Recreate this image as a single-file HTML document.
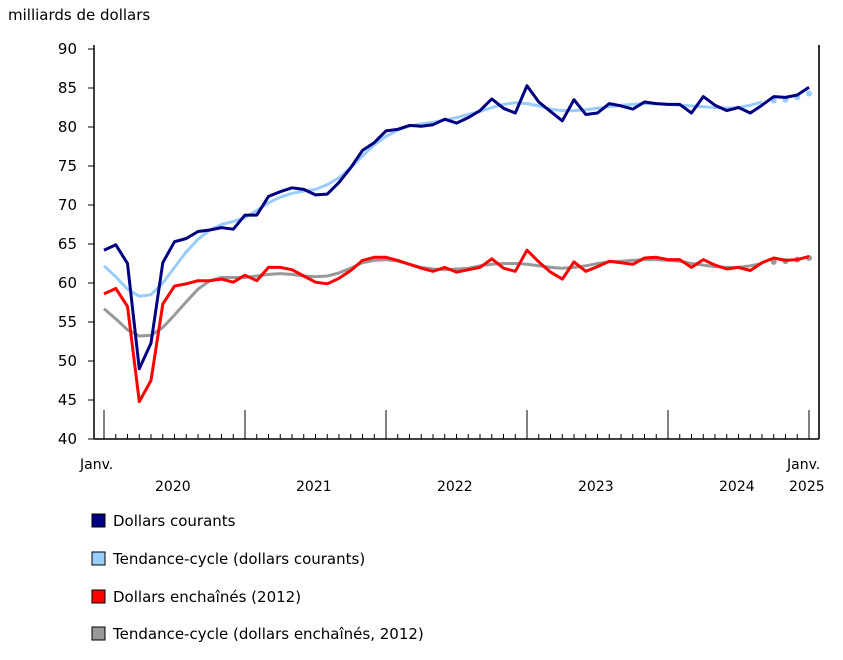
<!DOCTYPE html>
<html><head><meta charset="utf-8"><style>
body{margin:0;background:#fff;width:843px;height:655px;overflow:hidden}
text{font-family:"DejaVu Sans","Liberation Sans",sans-serif;font-size:14px;fill:#000}
.lg{font-size:15px}
</style></head><body>
<svg id="s" width="843" height="655" xmlns="http://www.w3.org/2000/svg">
<text x="8" y="20" style="font-size:15px">milliards de dollars</text>
<g id="ax"></g>
<text x="80" y="469">Janv.</text>
<text x="787" y="469">Janv.</text>
<text x="155" y="491">2020</text>
<text x="296" y="491">2021</text>
<text x="437" y="491">2022</text>
<text x="578" y="491">2023</text>
<text x="719" y="491">2024</text>
<text x="789" y="491">2025</text>
<rect x="92" y="514" width="13" height="13" fill="#000080" stroke="#000" stroke-width="1"/>
<text class="lg" x="113" y="526">Dollars courants</text>
<rect x="92" y="552" width="13" height="13" fill="#99ccff" stroke="#000" stroke-width="1"/>
<text class="lg" x="113" y="564">Tendance-cycle (dollars courants)</text>
<rect x="92" y="590" width="13" height="13" fill="#ff0000" stroke="#000" stroke-width="1"/>
<text class="lg" x="113" y="602">Dollars enchaînés (2012)</text>
<rect x="92" y="627" width="13" height="13" fill="#999999" stroke="#000" stroke-width="1"/>
<text class="lg" x="113" y="639">Tendance-cycle (dollars enchaînés, 2012)</text>
</svg>
<script>
var NS="http://www.w3.org/2000/svg",s=document.getElementById('s'),ax=document.getElementById('ax');
function el(t,a,p){var e=document.createElementNS(NS,t);for(var k in a)e.setAttribute(k,a[k]);(p||s).appendChild(e);return e}
function X(i){return 104+i*11.75}function Y(v){return 439-(v-40)*7.8}
for(var v=40;v<=90;v+=5){el('line',{x1:88,x2:94,y1:Y(v),y2:Y(v),stroke:'#000'},ax);var t=el('text',{x:77,y:Y(v)+5,'text-anchor':'end',style:'font-size:15px'},ax);t.textContent=v;}
el('line',{x1:94,x2:94,y1:45,y2:439,stroke:'#000','stroke-width':1.5},ax);
el('line',{x1:819,x2:819,y1:45,y2:439,stroke:'#333','stroke-width':2},ax);
el('line',{x1:94,x2:819,y1:439,y2:439,stroke:'#000','stroke-width':1.5},ax);
for(var i=0;i<=60;i++){var big=i%12==0;el('line',{x1:X(i),x2:X(i),y1:439,y2:big?410:434,stroke:'#000'},ax)}
var nc=[64.2,64.9,62.5,49,52.3,62.6,65.3,65.7,66.6,66.8,67.1,66.9,68.7,68.7,71.1,71.7,72.2,72.0,71.3,71.4,72.9,74.8,77.0,78.0,79.5,79.7,80.2,80.1,80.3,81.0,80.5,81.2,82.1,83.6,82.4,81.8,85.3,83.2,82.0,80.8,83.5,81.6,81.8,83.0,82.7,82.3,83.2,83.0,82.9,82.9,81.8,83.9,82.8,82.1,82.5,81.8,82.8,83.9,83.8,84.1,85.1];
var tc=[62.2,60.8,59.2,58.3,58.5,60,62,64,65.6,66.8,67.5,67.9,68.4,69.3,70.3,71.0,71.5,71.8,72.0,72.6,73.5,74.8,76.3,77.7,78.8,79.6,80.1,80.4,80.6,80.9,81.2,81.6,82.0,82.5,82.9,83.1,83.0,82.7,82.3,82.1,82.1,82.2,82.4,82.6,82.8,82.9,83.0,83.0,82.9,82.8,82.7,82.6,82.5,82.4,82.5,82.8,83.2,83.4,83.5,83.8,84.3];
var rc=[58.6,59.3,57.0,44.8,47.5,57.3,59.6,59.9,60.3,60.3,60.5,60.1,61.0,60.3,62.0,62.0,61.7,60.9,60.1,59.9,60.6,61.6,62.9,63.3,63.3,62.9,62.4,61.9,61.5,62.0,61.4,61.7,62.0,63.1,61.9,61.5,64.2,62.7,61.4,60.5,62.7,61.5,62.1,62.8,62.6,62.4,63.2,63.3,63.0,63.0,62.0,63.0,62.3,61.8,62.0,61.6,62.6,63.2,62.9,63.0,63.4];
var gc=[56.7,55.4,54.0,53.2,53.3,54.3,55.9,57.6,59.2,60.3,60.7,60.7,60.7,60.9,61.1,61.2,61.1,60.9,60.8,60.9,61.3,61.9,62.6,62.9,63.0,62.8,62.4,62.0,61.8,61.7,61.8,61.9,62.2,62.4,62.5,62.5,62.4,62.2,62.0,61.9,62.0,62.2,62.5,62.7,62.8,62.9,63.0,63.0,62.9,62.8,62.5,62.3,62.1,62.0,62.0,62.2,62.5,62.7,62.8,63.0,63.2];
function line(d,c,n,w){var p=[];for(var i=0;i<n;i++)p.push(X(i).toFixed(1)+','+Y(d[i]).toFixed(1));el('polyline',{points:p.join(' '),fill:'none',stroke:c,'stroke-width':w,'stroke-linejoin':'round'})}
function dots(d,c){for(var i=57;i<=60;i++)el('circle',{cx:X(i),cy:Y(d[i]),r:3,fill:c})}
line(gc,'#999999',57,3);dots(gc,'#999999');
line(rc,'#ff0000',61,3);
line(tc,'#99ccff',57,3);dots(tc,'#99ccff');
line(nc,'#000080',61,3);
</script>
</body></html>
